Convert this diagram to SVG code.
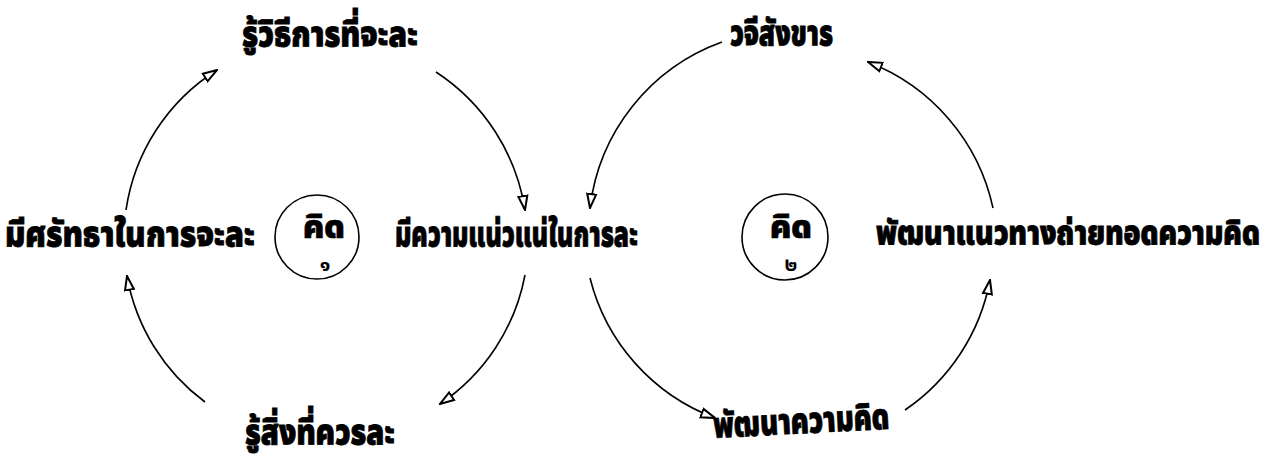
<svg xmlns="http://www.w3.org/2000/svg" width="1273" height="459" viewBox="0 0 1273 459">
<style>
.lbl{font-family:"Noto Sans Thai","Noto Sans","DejaVu Sans",sans-serif;font-weight:900;font-size:36px;fill:#000;stroke:#000;stroke-width:0.8}
.ctr{font-family:"Noto Sans Thai","Noto Sans","DejaVu Sans",sans-serif;font-weight:900;font-size:32px;fill:#000;stroke:#000;stroke-width:0.6;text-anchor:middle}
.dig{font-family:"Noto Sans Thai","Noto Sans","DejaVu Sans",sans-serif;font-weight:bold;font-size:20px;fill:#000;text-anchor:middle}
.arc{fill:none;stroke:#000;stroke-width:1.6;marker-end:url(#ah)}
.ring{fill:none;stroke:#000;stroke-width:1.6}
</style>
<defs>
<marker id="ah" viewBox="0 0 16 12" refX="15" refY="6" markerWidth="16" markerHeight="12" markerUnits="userSpaceOnUse" orient="auto">
<path d="M1,1.5 L15,6 L1,10.5 Z" fill="#fff" stroke="#000" stroke-width="2" stroke-linejoin="miter"/>
</marker>
</defs>
<rect width="1273" height="459" fill="#fff"/>
<g id="connectors">
<path class="arc" d="M126,210 A200,200 0 0 1 217,70"/>
<path class="arc" d="M436,72 A202,202 0 0 1 525,210"/>
<path class="arc" d="M525,275 A200,200 0 0 1 440,404"/>
<path class="arc" d="M205,402 A200,200 0 0 1 127,276"/>
<path class="arc" d="M590,278 A202,202 0 0 0 715,418"/>
<path class="arc" d="M905,410 A202,202 0 0 0 990,280"/>
<path class="arc" d="M993,208 A202,202 0 0 0 868,62"/>
<path class="arc" d="M722,42 A202,202 0 0 0 590,208"/>
</g>
<g id="think1">
<circle class="ring" cx="317" cy="237" r="42"/>
<text class="ctr" x="324" y="238">คิด</text>
<text class="dig" x="325" y="271">๑</text>
</g>
<g id="think2">
<circle class="ring" cx="785" cy="237" r="43"/>
<text class="ctr" x="791" y="238">คิด</text>
<text class="dig" x="791" y="271">๒</text>
</g>
<g id="n-left"><text class="lbl" x="5" y="246" textLength="250" lengthAdjust="spacingAndGlyphs">มีศรัทธาในการจะละ</text></g>
<g id="n-center"><text class="lbl" x="395" y="246" textLength="243" lengthAdjust="spacingAndGlyphs">มีความแน่วแน่ในการละ</text></g>
<g id="n-right"><text class="lbl" x="876" y="245" textLength="384" lengthAdjust="spacingAndGlyphs" style="font-size:33px">พัฒนาแนวทางถ่ายทอดความคิด</text></g>
<g id="n-topleft"><text class="lbl" x="242" y="46" textLength="176" lengthAdjust="spacingAndGlyphs">รู้วิธีการที่จะละ</text></g>
<g id="n-topright"><text class="lbl" x="730" y="45" textLength="103" lengthAdjust="spacingAndGlyphs">วจีสังขาร</text></g>
<g id="n-bottomleft"><text class="lbl" x="245" y="444" textLength="150" lengthAdjust="spacingAndGlyphs">รู้สิ่งที่ควรละ</text></g>
<g id="n-bottomright"><text class="lbl" x="714" y="438" textLength="176" lengthAdjust="spacingAndGlyphs" transform="rotate(-3 714 438)">พัฒนาความคิด</text></g>
</svg>
